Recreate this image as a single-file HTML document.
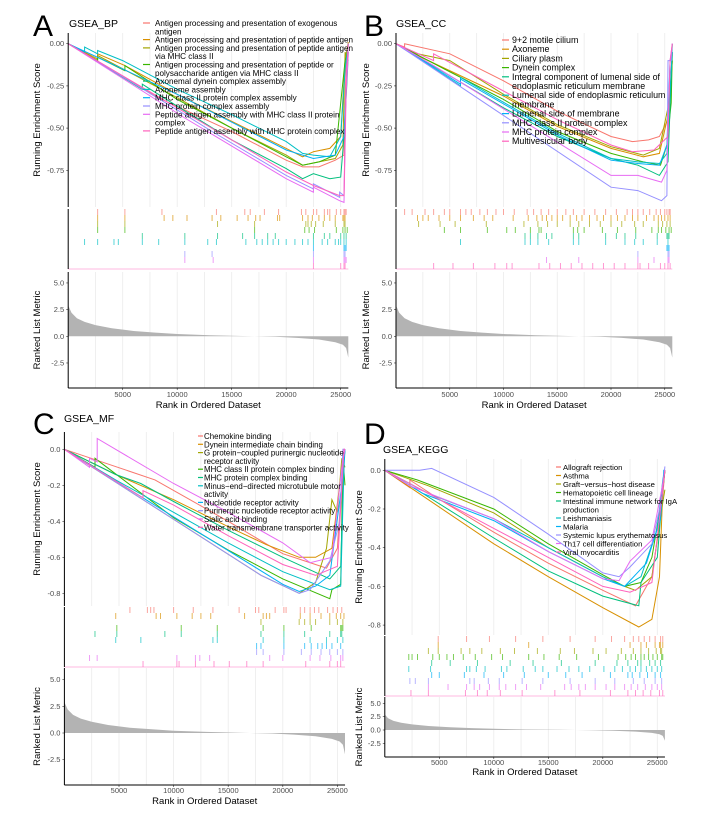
<!DOCTYPE html>
<html><head><meta charset="utf-8"><style>
html,body{margin:0;padding:0;background:#fff;}
svg{display:block;font-family:"Liberation Sans",Arial,sans-serif;}
</style></head><body>
<svg id="fig" width="717" height="819" viewBox="0 0 717 819" xmlns="http://www.w3.org/2000/svg"></svg>
<script>
const colors = ["#F8766D","#D89000","#A3A500","#39B600","#00BF7D","#00BFC4","#00B0F6","#9590FF","#E76BF3","#FF62BC"];
const xTickLabels = ["5000","10000","15000","20000","25000"];
const xTickValues = [5000,10000,15000,20000,25000];
const gridValues = [2500,5000,7500,10000,12500,15000,17500,20000,22500,25000];
const rankTickValues = [5,2.5,0,-2.5];
const rankTickLabels = ["5.0","2.5","0.0","-2.5"];
const metricRanks = [0,300,800,1500,2500,4000,6000,8000,10000,13000,16000,19000,21000,23000,24500,25200,25500,25700];
const metricVals = [2.9,2.2,1.7,1.35,1.05,0.75,0.5,0.35,0.22,0.1,0.03,-0.05,-0.15,-0.3,-0.55,-0.8,-1.1,-2.0];

/* Panel A */
const legendA = [["Antigen processing and presentation of exogenous","antigen"],["Antigen processing and presentation of peptide antigen"],["Antigen processing and presentation of peptide antigen","via MHC class II"],["Antigen processing and presentation of peptide or","polysaccharide antigen via MHC class II"],["Axonemal dynein complex assembly"],["Axoneme assembly"],["MHC class II protein complex assembly"],["MHC protein complex assembly"],["Peptide antigen assembly with MHC class II protein","complex"],["Peptide antigen assembly with MHC protein complex"]];
const esTicksA = [0,-0.25,-0.5,-0.75];
const esTickLabelsA = ["0.00","-0.25","-0.50","-0.75"];
const curvesA = [
 [[0,0],[8600,-0.33],[15000,-0.52],[20000,-0.69],[21500,-0.73],[23000,-0.73],[24500,-0.69],[25300,-0.66],[25500,-0.1],[25700,0]],
 [[0,0],[2700,-0.09],[2700,-0.06],[5200,-0.13],[10000,-0.30],[15000,-0.46],[20000,-0.62],[21500,-0.67],[22500,-0.64],[24000,-0.62],[25000,-0.55],[25400,-0.1],[25700,0.01]],
 [[0,0],[2700,-0.10],[2700,-0.07],[10000,-0.32],[15000,-0.50],[20000,-0.66],[21500,-0.72],[23000,-0.70],[24500,-0.68],[25200,-0.6],[25400,-0.05],[25700,-0.1]],
 [[0,0],[2700,-0.10],[2700,-0.08],[5200,-0.16],[5200,-0.13],[10000,-0.33],[15000,-0.50],[20000,-0.67],[21500,-0.72],[23000,-0.70],[24500,-0.66],[25400,-0.1],[25700,-0.05]],
 [[0,0],[6800,-0.27],[6800,-0.24],[10000,-0.37],[15000,-0.57],[20000,-0.74],[21500,-0.80],[22500,-0.77],[24000,-0.80],[25000,-0.79],[25300,-0.55],[25600,-0.2],[25700,-0.05]],
 [[0,0],[1500,-0.05],[1500,-0.02],[2700,-0.06],[2700,-0.04],[5000,-0.10],[10000,-0.27],[15000,-0.42],[20000,-0.58],[21500,-0.65],[22500,-0.66],[24000,-0.67],[25000,-0.55],[25400,-0.15],[25700,0]],
 [[0,0],[10000,-0.30],[20000,-0.63],[22500,-0.68],[24500,-0.66],[25300,-0.55],[25600,-0.1],[25700,0]],
 [[0,0],[10700,-0.42],[13200,-0.52],[20000,-0.78],[22500,-0.86],[22500,-0.83],[24900,-0.91],[24900,-0.88],[25300,-0.9],[25500,-0.2],[25700,0]],
 [[0,0],[10700,-0.44],[13300,-0.54],[20000,-0.80],[22500,-0.88],[22500,-0.85],[24900,-0.93],[25300,-0.94],[25500,-0.3],[25700,-0.05]],
 [[0,0],[20000,-0.76],[22500,-0.84],[24900,-0.90],[25300,-0.90],[25500,-0.2],[25700,0]]
];
const hitsA = [
 [2700,5200,8600,13600,16200,16700,18000,19300,21400,21800,22500,22800,23500,23800,24000,24600,25000,25300,25400,25500],
 [2700,5200,8800,9600,10900,13200,14000,15500,16500,17200,17600,19200,19400,21500,22000,22400,23000,23500,24000,24500,25200,25300,25400],
 [2700,5200,13700,17100,21800,22000,22300,22700,23400,24500,25300,25400],
 [2700,5200,17100,21700,22100,22600,24600,25200,25400,25600],
 [6800,10700,13700,16000,17100,18300,19000,22500,23500,24000,25000,25300,25500],
 [1500,2700,4200,4600,6800,8300,10700,12800,13600,16300,17300,17800,18300,18800,19300,20000,20800,21500,22000,22500,23300,23800,24500,24800,25000,25300,25500],
 [22500,25300,25400,25500],
 [10700,13200,22500,25300,25400],
 [10700,13300,22500,25300,25400,25500],
 [22500,25000,25300,25400]
];

/* Panel B */
const legendB = [["9+2 motile cilium"],["Axoneme"],["Ciliary plasm"],["Dynein complex"],["Integral component of lumenal side of","endoplasmic reticulum membrane"],["Lumenal side of endoplasmic reticulum","membrane"],["Lumenal side of membrane"],["MHC class II protein complex"],["MHC protein complex"],["Multivesicular body"]];
const esTicksB = [0,-0.25,-0.5,-0.75];
const esTickLabelsB = ["0.00","-0.25","-0.50","-0.75"];
const curvesB = [
 [[0,0],[800,-0.02],[800,0],[5000,-0.06],[10000,-0.22],[15000,-0.40],[20000,-0.55],[22000,-0.58],[23500,-0.57],[24500,-0.55],[25300,-0.45],[25600,-0.2],[25700,-0.05]],
 [[0,0],[2000,-0.07],[10000,-0.31],[15000,-0.49],[20000,-0.62],[23000,-0.67],[24500,-0.65],[25400,-0.4],[25700,-0.1]],
 [[0,0],[2000,-0.06],[5000,-0.10],[10000,-0.30],[15000,-0.48],[20000,-0.61],[23000,-0.66],[24500,-0.62],[25400,-0.35],[25700,-0.1]],
 [[0,0],[4500,-0.15],[10000,-0.33],[15000,-0.52],[20000,-0.65],[23000,-0.70],[24600,-0.72],[25200,-0.6],[25600,-0.35],[25700,-0.05]],
 [[0,0],[10000,-0.38],[15000,-0.55],[20000,-0.68],[22500,-0.72],[24500,-0.78],[25300,-0.70],[25600,-0.2],[25700,0]],
 [[0,0],[6000,-0.25],[6000,-0.20],[15000,-0.53],[20000,-0.68],[22500,-0.70],[24500,-0.71],[25200,-0.65],[25600,-0.15],[25700,-0.05]],
 [[0,0],[6000,-0.24],[6000,-0.21],[15000,-0.54],[20000,-0.69],[22500,-0.71],[24500,-0.72],[25200,-0.6],[25500,-0.1],[25700,-0.05]],
 [[0,0],[20000,-0.85],[22500,-0.87],[24700,-0.93],[25200,-0.9],[25300,-0.1],[25600,-0.1],[25700,0]],
 [[0,0],[3500,-0.13],[20000,-0.78],[22500,-0.78],[24700,-0.82],[25200,-0.75],[25500,-0.1],[25700,0]],
 [[0,0],[3500,-0.10],[3500,-0.06],[10000,-0.28],[15000,-0.45],[20000,-0.60],[22000,-0.64],[24000,-0.63],[25300,-0.55],[25500,-0.1],[25700,0]]
];
const hitsB = [
 [800,1500,2700,3500,4500,5000,6000,6500,7000,7800,8500,9300,10000,11000,12200,12800,13500,14200,15000,15800,16500,17500,18500,19500,20500,21500,22000,22500,23000,23600,24200,24600,25000,25200,25400,25500],
 [2000,2500,3000,4000,5000,6000,7200,8200,9000,10900,12300,13100,13600,14000,14500,15000,15500,16200,16800,17300,18000,18700,19300,20000,20600,21300,22000,22500,23300,24000,24400,24700,25000,25300,25500],
 [2100,4100,5500,8400,11900,13200,14100,15000,16200,17000,18000,19000,20000,21000,22200,23000,24400,24800,25200,25500],
 [4500,6000,8500,10300,11100,12500,13300,13500,16500,16900,17500,19200,20600,22300,23800,24400,24700,25100,25400,25600],
 [12000,12500,13200,14000,14500,16500,17000,19500,20500,21300,22300,24300,25200,25300,25400],
 [6000,12000,12500,13200,14200,16500,17000,19500,21300,22200,23000,24300,25300],
 [25200,25300,25400],
 [22500,25300,25400],
 [14000,17000,22500,24000,25300,25400],
 [3500,5300,7200,9200,10300,10800,13300,14300,15300,16300,17300,18300,19300,20300,21300,22500,22700,23500,24600,25000,25300,25500]
];

/* Panel C */
const legendC = [["Chemokine binding"],["Dynein intermediate chain binding"],["G protein\u2212coupled purinergic nucleotide","receptor activity"],["MHC class II protein complex binding"],["MHC protein complex binding"],["Minus\u2212end\u2212directed microtubule motor","activity"],["Nucleotide receptor activity"],["Purinergic nucleotide receptor activity"],["Sialic acid binding"],["Water transmembrane transporter activity"]];
const esTicksC = [0,-0.2,-0.4,-0.6,-0.8];
const esTickLabelsC = ["0.0","-0.2","-0.4","-0.6","-0.8"];
const curvesC = [
 [[0,0],[8300,-0.17],[15000,-0.40],[20000,-0.58],[22000,-0.62],[24000,-0.66],[25000,-0.55],[25500,-0.1],[25700,0]],
 [[0,0],[4700,-0.14],[10000,-0.28],[15000,-0.43],[18500,-0.53],[21500,-0.60],[23000,-0.60],[24500,-0.55],[25400,-0.1],[25700,0]],
 [[0,0],[18000,-0.70],[21500,-0.80],[23000,-0.74],[24000,-0.55],[24500,-0.28],[25000,-0.35],[25400,-0.05],[25700,-0.1]],
 [[0,0],[2800,-0.10],[2800,-0.05],[10000,-0.38],[15000,-0.56],[20000,-0.72],[24300,-0.83],[24500,-0.78],[25300,-0.75],[25500,-0.05],[25700,-0.2]],
 [[0,0],[4700,-0.14],[7000,-0.19],[10000,-0.29],[15000,-0.45],[20000,-0.60],[24300,-0.72],[25300,-0.65],[25600,-0.05],[25700,0]],
 [[0,0],[4700,-0.17],[10000,-0.35],[15000,-0.52],[20000,-0.68],[24300,-0.78],[25300,-0.76],[25600,-0.1],[25700,0]],
 [[0,0],[20000,-0.75],[21500,-0.79],[23000,-0.76],[24300,-0.70],[25400,-0.2],[25700,0]],
 [[0,0],[18000,-0.70],[21500,-0.80],[22500,-0.78],[24300,-0.62],[25200,-0.4],[25500,0],[25700,0]],
 [[0,0],[2300,-0.10],[2300,-0.05],[3000,-0.07],[3000,0.06],[10000,-0.19],[15000,-0.35],[20000,-0.52],[22500,-0.63],[24500,-0.60],[25400,-0.1],[25700,0]],
 [[0,0],[7200,-0.27],[7200,-0.23],[10000,-0.31],[15000,-0.48],[20000,-0.64],[23000,-0.70],[25000,-0.65],[25600,0],[25700,0]]
];
const hitsC = [
 [6000,7600,7900,8200,10000,11800,13600,16000,17500,17800,19300,20100,20300,21600,22000,22500,22900,23300,24100,24600,25000,25400],
 [4700,8400,8800,10300,11700,12500,13400,16500,18200,18500,18800,21600,22500,23500,24300,24900,25300,25600],
 [18000,21500,22000,22500,23000,24300,25000,25500],
 [4800,10700,14000,18200,20100,22600,25300,25400,25500],
 [2800,4800,9200,10700,14000,18000,20100,22000,24300,25300,25400],
 [4700,7000,13600,14000,18200,20100,22500,24000,25000,25500],
 [17600,18000,20100,22000,22600,23200,23600,24000,24500,25300],
 [17600,18200,20100,21700,22600,23500,24300,25000,25500],
 [2300,3000,10300,12000,12400,13300,18800,20000,22500,23400,24400,25300,25500],
 [7200,10300,10500,12000,13700,15100,16700,18200,22100,24300,25000,25300]
];

/* Panel D */
const legendD = [["Allograft rejection"],["Asthma"],["Graft\u2212versus\u2212host disease"],["Hematopoietic cell lineage"],["Intestinal immune network for IgA","production"],["Leishmaniasis"],["Malaria"],["Systemic lupus erythematosus"],["Th17 cell differentiation"],["Viral myocarditis"]];
const esTicksD = [0,-0.2,-0.4,-0.6,-0.8];
const esTickLabelsD = ["0.0","-0.2","-0.4","-0.6","-0.8"];
const curvesD = [
 [[0,0],[2300,-0.09],[2300,-0.05],[5000,-0.15],[10000,-0.32],[15000,-0.48],[20000,-0.62],[23000,-0.70],[24500,-0.55],[25400,-0.2],[25700,0]],
 [[0,0],[5000,-0.19],[10000,-0.38],[15000,-0.55],[20000,-0.71],[23300,-0.81],[24500,-0.77],[25200,-0.55],[25500,-0.1],[25700,0]],
 [[0,0],[4000,-0.08],[10000,-0.22],[15000,-0.40],[20000,-0.55],[22000,-0.60],[23000,-0.62],[24500,-0.55],[25400,-0.2],[25700,-0.1]],
 [[0,0],[3000,-0.05],[10000,-0.20],[15000,-0.38],[20000,-0.54],[22000,-0.60],[23500,-0.58],[24500,-0.45],[25400,-0.15],[25700,0]],
 [[0,0],[3500,-0.12],[10000,-0.35],[15000,-0.52],[20000,-0.65],[23300,-0.70],[23500,-0.58],[25000,-0.45],[25500,-0.1],[25700,0]],
 [[0,0],[4000,-0.12],[10000,-0.25],[15000,-0.40],[20000,-0.55],[22000,-0.60],[23500,-0.55],[25000,-0.3],[25500,-0.05],[25700,0]],
 [[0,0],[3500,-0.12],[10000,-0.26],[15000,-0.42],[20000,-0.56],[22000,-0.60],[24000,-0.48],[25300,-0.25],[25600,0],[25700,0]],
 [[0,0],[3200,0],[4300,0.01],[10000,-0.14],[15000,-0.33],[20000,-0.53],[21500,-0.55],[22500,-0.50],[24500,-0.38],[25400,-0.15],[25700,0.02]],
 [[0,0],[2300,-0.08],[10000,-0.25],[15000,-0.42],[20000,-0.56],[21500,-0.57],[22500,-0.47],[24500,-0.36],[25400,-0.1],[25700,0]],
 [[0,0],[10000,-0.30],[15000,-0.45],[20000,-0.60],[22500,-0.63],[24500,-0.58],[25400,-0.15],[25700,0]]
];
const hitsD = [
 [4900,7500,9600,12000,14500,17000,19300,20800,22000,22800,23300,23800,24300,24800,25300,25500],
 [4900,13200,22500,23500,24000,24800,25200,25300,25500],
 [4000,4900,7000,7800,8900,10600,11900,14000,16100,17400,19100,20300,21700,22800,23500,24200,24900,25300,25400],
 [2200,2500,3000,4400,5000,5700,6300,7200,8300,9800,10800,13200,14600,16000,17600,19600,21400,22100,22600,23000,23500,23800,24200,24600,25000,25400,25500],
 [4300,6000,8500,11500,13600,16200,19300,21300,22300,23200,23500,24300,24800,25300],
 [2200,4200,7500,7800,8400,9200,10700,11200,12700,13800,14500,15800,16900,17800,18800,20100,21100,21800,22500,23000,23500,24000,24500,25000,25400],
 [4300,5000,7300,9100,10900,12800,15000,16600,18100,20700,22300,22700,23400,24100,24800,25300],
 [2300,2800,4000,7800,8200,9500,10500,12600,14500,17000,19300,21100,22800,23800,24800,25400],
 [4000,5800,7500,8200,8700,9600,10500,11100,12000,13000,14300,16500,17100,17800,18400,19300,20300,21100,22000,22600,23200,23900,24500,25000,25400],
 [2400,4000,7400,8500,9400,10600,12600,15600,17900,20700,22300,23000,23700,24400,25200,25500]
];

const NS = "http://www.w3.org/2000/svg";
const svg = document.getElementById("fig");
function mk(tag, attrs, parent){ const e=document.createElementNS(NS,tag); for(const k in attrs) e.setAttribute(k,attrs[k]); (parent||svg).appendChild(e); return e; }

const layouts = [
 {id:"a",letter:"A",lx:33,ly:36,title:"GSEA_BP",tx:69,ty:27,ox:68.2,kx:0.0109,esTop:33,esBot:207,esZero:43.7,esUnit:168.8,hitTop:209,hitBot:269,rkTop:272,rkBot:388,rkZero:336.3,rkUnit:10.67,ytx:40,legX:143,legKey:7,legTx:12,legY:23,legDy:8.3,legFs:8.1,xlY:397,xtY:408,curves:curvesA,hits:hitsA,legend:legendA,esT:esTicksA,esL:esTickLabelsA},
 {id:"b",letter:"B",lx:364,ly:36,title:"GSEA_CC",tx:396,ty:27,ox:396,kx:0.01075,esTop:33,esBot:207,esZero:43.7,esUnit:168.8,hitTop:209,hitBot:269,rkTop:272,rkBot:388,rkZero:336.3,rkUnit:10.67,ytx:369,legX:502,legKey:7,legTx:10,legY:40,legDy:9.2,legFs:8.9,xlY:397,xtY:408,curves:curvesB,hits:hitsB,legend:legendB,esT:esTicksB,esL:esTickLabelsB},
 {id:"c",letter:"C",lx:33,ly:434,title:"GSEA_MF",tx:64,ty:422,ox:64.4,kx:0.01092,esTop:432,esBot:606,esZero:449.3,esUnit:180,hitTop:607,hitBot:667,rkTop:668,rkBot:785,rkZero:733,rkUnit:10.67,ytx:40,legX:198,legKey:5,legTx:6,legY:436,legDy:8.3,legFs:7.9,xlY:793,xtY:804,curves:curvesC,hits:hitsC,legend:legendC,esT:esTicksC,esL:esTickLabelsC},
 {id:"d",letter:"D",lx:364,ly:444,title:"GSEA_KEGG",tx:383,ty:453,ox:384.8,kx:0.0109,esTop:459,esBot:635,esZero:470.3,esUnit:193.5,hitTop:636,hitBot:696,rkTop:697,rkBot:757,rkZero:730,rkUnit:5.33,ytx:362,legX:556,legKey:5,legTx:7,legY:467,legDy:8.5,legFs:7.7,xlY:765,xtY:775,curves:curvesD,hits:hitsD,legend:legendD,esT:esTicksD,esL:esTickLabelsD}
];

layouts.forEach(L=>{
 const g = mk("g",{});
 
 
 const X = r => L.ox + r*L.kx;
 const Y = v => L.esZero - v*L.esUnit;
 const R = v => L.rkZero - v*L.rkUnit;
 const xEnd = X(25700);
 const let_ = mk("text",{x:L.lx,y:L.ly,"font-size":30,fill:"#000"},g); let_.textContent=L.letter;
 
 
 const tt = mk("text",{x:L.tx,y:L.ty,"font-size":10.5,fill:"#000"},g); tt.textContent=L.title;
 
 
 gridValues.forEach(v=>{
  const gl = mk("line",{x1:X(v),x2:X(v),y1:L.esTop,y2:L.esBot,stroke:"#ebebeb","stroke-width":0.8},g);
  
  
  const gl2 = mk("line",{x1:X(v),x2:X(v),y1:L.rkTop,y2:L.rkBot,stroke:"#ebebeb","stroke-width":0.8},g);
  
  
 });
 L.esT.forEach((v,i)=>{
  const t = mk("text",{x:X(0)-4,y:Y(v)+2.5,"font-size":7.5,fill:"#4d4d4d","text-anchor":"end"},g); t.textContent=L.esL[i];
  
  
  mk("line",{x1:X(0)-2,x2:X(0),y1:Y(v),y2:Y(v),stroke:"#333","stroke-width":0.6},g);
 });
 L.curves.forEach((c,i)=>{
  const pts = c.map(p=>X(p[0]).toFixed(1)+","+Y(p[1]).toFixed(1)).join(" ");
  const pl = mk("polyline",{points:pts,fill:"none",stroke:colors[i],"stroke-width":1},g);
  
  
 });
 let ly = L.legY;
 L.legend.forEach((lines,i)=>{
  const key = mk("line",{x1:L.legX,x2:L.legX+L.legKey,y1:ly,y2:ly,stroke:colors[i],"stroke-width":1.2},g);
  
  
  lines.forEach((ln,j)=>{
   const t = mk("text",{x:L.legX+L.legTx,y:ly+3+j*L.legDy,"font-size":L.legFs,fill:"#000"},g); t.textContent=ln;
   
   
  });
  ly += L.legDy*lines.length;
 });
 const n = L.hits.length, rh = (L.hitBot-L.hitTop)/n;
 L.hits.forEach((arr,i)=>{
  arr.forEach(r=>{
   const h = mk("line",{x1:X(r),x2:X(r),y1:L.hitTop+i*rh,y2:L.hitTop+(i+1)*rh,stroke:colors[i],"stroke-width":1,opacity:0.65},g);
   
   
  });
 });
 mk("line",{x1:X(0),x2:xEnd,y1:L.hitBot,y2:L.hitBot,stroke:colors[9],"stroke-width":0.8,opacity:0.6},g);
 let ap = X(0).toFixed(1)+","+R(0).toFixed(1)+" ";
 ap += metricRanks.map((r,i)=>X(r).toFixed(1)+","+R(metricVals[i]).toFixed(1)).join(" ");
 ap += " "+X(metricRanks[metricRanks.length-1]).toFixed(1)+","+R(0).toFixed(1);
 const area = mk("polygon",{points:ap,fill:"#b3b3b3"},g);
 
 
 rankTickValues.forEach((v,i)=>{
  const t = mk("text",{x:X(0)-4,y:R(v)+2.5,"font-size":7.5,fill:"#4d4d4d","text-anchor":"end"},g); t.textContent=rankTickLabels[i];
  
  
  mk("line",{x1:X(0)-2,x2:X(0),y1:R(v),y2:R(v),stroke:"#333","stroke-width":0.6},g);
 });
 xTickValues.forEach((v,i)=>{
  const t = mk("text",{x:X(v),y:L.xlY,"font-size":7.5,fill:"#4d4d4d","text-anchor":"middle"},g); t.textContent=xTickLabels[i];
  
  
  mk("line",{x1:X(v),x2:X(v),y1:L.rkBot,y2:L.rkBot+2,stroke:"#333","stroke-width":0.6},g);
 });
 [[L.esTop,L.esBot],[L.hitTop,L.hitBot],[L.rkTop,L.rkBot]].forEach(s=>{
  const a = mk("line",{x1:X(0),x2:X(0),y1:s[0],y2:s[1],stroke:"#000","stroke-width":1},g);
  
  
 });
 const xa = mk("line",{x1:X(0),x2:xEnd,y1:L.rkBot,y2:L.rkBot,stroke:"#000","stroke-width":1},g);
 
 
 const xt = mk("text",{x:(X(0)+xEnd)/2,y:L.xtY,"font-size":9.5,fill:"#000","text-anchor":"middle"},g); xt.textContent="Rank in Ordered Dataset";
 
 
 const ymid = (L.esTop+L.esBot)/2;
 const yt = mk("text",{x:L.ytx,y:ymid,"font-size":9.5,fill:"#000","text-anchor":"middle",transform:`rotate(-90 ${L.ytx} ${ymid})`},g); yt.textContent="Running Enrichment Score";
 
 
 const rmid = (L.rkTop+L.rkBot)/2;
 const rt = mk("text",{x:L.ytx,y:rmid,"font-size":9.5,fill:"#000","text-anchor":"middle",transform:`rotate(-90 ${L.ytx} ${rmid})`},g); rt.textContent="Ranked List Metric";
 
 
});
</script>
</body></html>
